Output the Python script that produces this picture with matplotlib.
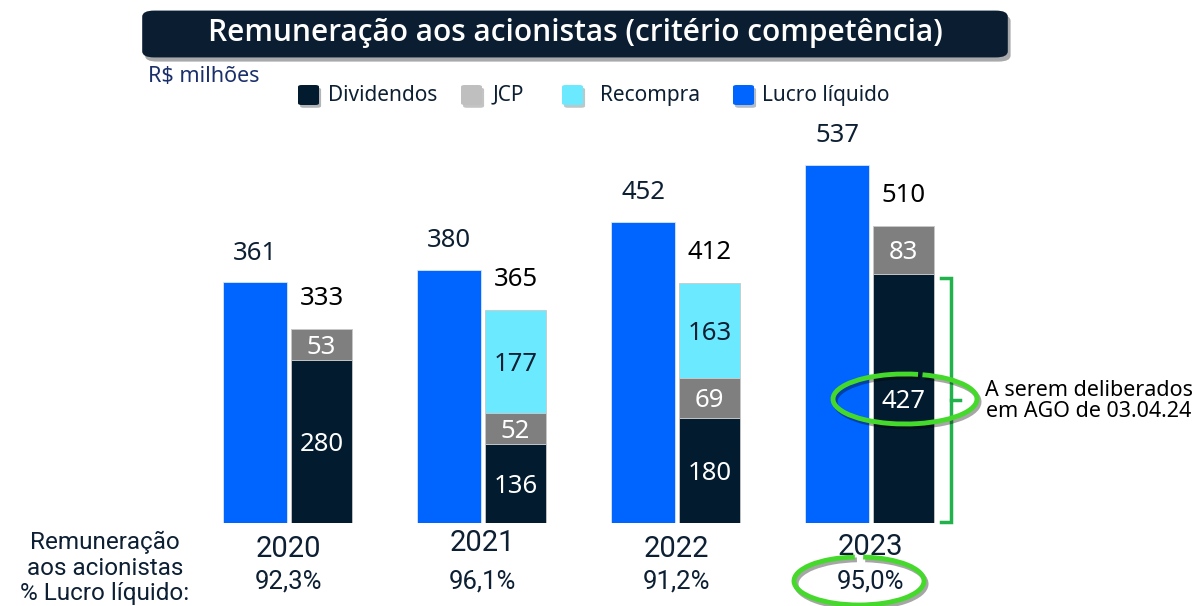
import numpy as np
import matplotlib.pyplot as plt
from matplotlib.patches import FancyBboxPatch, Arc
import matplotlib.patheffects as pe

W, H = 1201, 606

anos = ["2020", "2021", "2022", "2023"]
lucro = [361, 380, 452, 537]
dividendos = [280, 136, 180, 427]
jcp = [53, 52, 69, 83]
recompra = [0, 177, 163, 0]
total = [333, 365, 412, 510]
pct_lucro = ["92,3%", "96,1%", "91,2%", "95,0%"]

c_div = "#021b2f"
c_jcp = "#7f7f7f"
c_rec = "#6be9ff"
c_luc = "#0064ff"
c_navy = "#0d1f33"
c_green = "#22b24c"
c_mark = "#45d92c"

f_num = ["Noto Sans", "DejaVu Sans"]
f_cond = ["Roboto", "DejaVu Sans"]
f_title = ["Open Sans", "Noto Sans", "DejaVu Sans"]


def fx(px):
    return px / W


def fy(py):
    return 1 - py / H


fig = plt.figure(figsize=(W / 100, H / 100), dpi=100)

# main axes: baseline at y=523 px, 400 px tall
ax = fig.add_axes([0, fy(523), 1, 400 / H])
ax.set_xlim(-288 / 194, (W - 288) / 194)
ax.set_ylim(0, 600)
ax.axis("off")
# stacked bars use their own scale
ax2 = ax.twinx()
ax2.set_ylim(0, 686)
ax2.axis("off")

x = np.arange(len(anos))
xb = x - 0.17
xs = x + 0.173

bl = ax.bar(xb, lucro, width=0.33, color=c_luc, edgecolor="#d8e4ff", linewidth=0.6)
b1 = ax2.bar(xs, dividendos, width=0.315, color=c_div, edgecolor="#c8c8c8", linewidth=0.6)
b2 = ax2.bar(xs, jcp, bottom=dividendos, width=0.315, color=c_jcp, edgecolor="#c8c8c8", linewidth=0.6)
bot3 = np.array(dividendos) + np.array(jcp)
b3 = ax2.bar(xs, recompra, bottom=bot3, width=0.315, color=c_rec, edgecolor="#c8c8c8", linewidth=0.6)

for i in range(len(anos)):
    ax.annotate(str(lucro[i]), (xb[i], lucro[i]), xytext=(0, 21), textcoords="offset points",
                ha="center", va="center", fontsize=18.5, color=c_navy, family=f_num)
    ax2.annotate(str(total[i]), (xs[i], total[i]), xytext=(0, 22), textcoords="offset points",
                 ha="center", va="center", fontsize=18.5, color="black", family=f_num)
    ax2.text(xs[i], dividendos[i] / 2, str(dividendos[i]), ha="center", va="center_baseline",
             fontsize=18.5, color="white", family=f_num)
    ax2.text(xs[i], dividendos[i] + jcp[i] / 2, str(jcp[i]), ha="center", va="center_baseline",
             fontsize=18.5, color="white", family=f_num)
    if recompra[i]:
        ax2.text(xs[i], bot3[i] + recompra[i] / 2, str(recompra[i]), ha="center",
                 va="center_baseline", fontsize=18.5, color=c_navy, family=f_num)

# bracket next to the 2023 dividends
bx = 3 + (951 - 288 - 3 * 194) / 194
ax2.plot([bx - 0.052, bx, bx, bx - 0.052], [421, 421, 2, 2], color=c_green, lw=2.5,
         solid_joinstyle="miter", clip_on=False)
ax2.plot([bx, bx + 0.046], [211, 211], color=c_green, lw=2.5, clip_on=False)
fig.text(fx(1089), fy(401), "A serem deliberados\nem AGO de 03.04.24", ha="center", va="center",
         fontsize=15.5, color="black", family=f_num, linespacing=1.05)

# title banner
shadow = [pe.SimplePatchShadow(offset=(2, -3), alpha=0.35), pe.Normal()]
title_box = FancyBboxPatch((fx(147), fy(55)), fx(856), fy(13) - fy(55),
                           boxstyle="round,pad=0.004,rounding_size=0.01",
                           transform=fig.transFigure, facecolor="#0b1e31", edgecolor="none",
                           path_effects=shadow)
fig.add_artist(title_box)
fig.text(fx(575), fy(33), "Remuneração aos acionistas (critério competência)", ha="center",
         va="center", fontsize=21.5, color="white", family=f_title, weight="semibold")
fig.text(fx(148), fy(76), "R$ milhões", ha="left", va="center", fontsize=15.5,
         color="#1b2f6b", family=f_num)

# legend
legend_items = [("Dividendos", "#021b2f", 298, 328), ("JCP", "#bfbfbf", 461, 493),
                ("Recompra", "#6be9ff", 562, 600), ("Lucro líquido", "#0064ff", 733, 762)]
for lab, col, sx, tx in legend_items:
    sq = FancyBboxPatch((fx(sx), fy(105)), fx(21), fy(85) - fy(105),
                        boxstyle="round,pad=0,rounding_size=0.003", transform=fig.transFigure,
                        facecolor=col, edgecolor="none",
                        path_effects=[pe.SimplePatchShadow(offset=(1.5, -2), alpha=0.3), pe.Normal()])
    fig.add_artist(sq)
    fig.text(fx(tx), fy(95), lab, ha="left", va="center", fontsize=15, color=c_navy, family=f_num)

# years and percentages
year_y = [549, 543, 549, 547]
for i in range(len(anos)):
    cx = 288 + 194 * i
    fig.text(fx(cx), fy(year_y[i]), anos[i], ha="center", va="center", fontsize=21,
             color=c_navy, family=f_cond)
    fig.text(fx(cx), fy(582), pct_lucro[i], ha="center", va="center", fontsize=18.5,
             color=c_navy, family=f_cond)
fig.text(fx(105), fy(568), "Remuneração\naos acionistas\n% Lucro líquido:", ha="center",
         va="center", fontsize=17.5, color=c_navy, family=f_cond, linespacing=1.12)

# hand-drawn highlight rings
ring_fx = [pe.SimpleLineShadow(offset=(1.5, -2), alpha=0.35), pe.Normal()]
for (cx, cy, w, h, t1, t2) in [(905, 399, 144, 50, 75, 430), (859, 581, 130, 48, 95, 445)]:
    ring = Arc((fx(cx), fy(cy)), fx(w), h / H, theta1=t1, theta2=t2, transform=fig.transFigure,
               color=c_mark, lw=3.5, path_effects=ring_fx)
    fig.add_artist(ring)

fig.savefig("out.png", dpi=100)
